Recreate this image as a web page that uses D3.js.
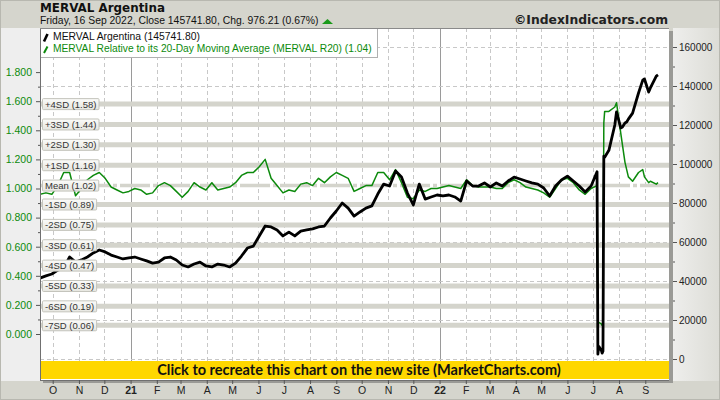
<!DOCTYPE html>
<html><head><meta charset="utf-8">
<script src="https://cdn.jsdelivr.net/npm/d3@7"></script>
<style>html,body{margin:0;padding:0;background:#fff}svg{display:block}</style>
</head><body><svg id="c" width="720" height="400"></svg>
<script>
// ---------- DATA ----------
const dates = [
"2020-09-16","2020-09-23","2020-09-30","2020-10-07","2020-10-14","2020-10-21","2020-10-28","2020-11-04","2020-11-11","2020-11-18",
"2020-11-25","2020-12-02","2020-12-09","2020-12-16","2020-12-23","2020-12-30","2021-01-06","2021-01-13","2021-01-20","2021-01-27",
"2021-02-03","2021-02-10","2021-02-17","2021-02-24","2021-03-03","2021-03-10","2021-03-17","2021-03-24","2021-03-31","2021-04-07",
"2021-04-14","2021-04-21","2021-04-28","2021-05-05","2021-05-12","2021-05-19","2021-05-26","2021-06-02","2021-06-09","2021-06-16",
"2021-06-23","2021-06-30","2021-07-07","2021-07-14","2021-07-21","2021-07-28","2021-08-04","2021-08-11","2021-08-18","2021-08-25",
"2021-09-01","2021-09-08","2021-09-15","2021-09-22","2021-09-29","2021-10-06","2021-10-13","2021-10-20","2021-10-27","2021-11-03",
"2021-11-10","2021-11-17","2021-11-24","2021-12-01","2021-12-08","2021-12-15","2021-12-22","2021-12-29","2022-01-05","2022-01-12",
"2022-01-19","2022-01-26","2022-02-02","2022-02-09","2022-02-16","2022-02-23","2022-03-02","2022-03-09","2022-03-16","2022-03-23",
"2022-03-30","2022-04-06","2022-04-13","2022-04-20","2022-04-27","2022-05-04","2022-05-11","2022-05-18","2022-05-25","2022-06-01",
"2022-06-08","2022-06-15","2022-06-22","2022-06-29","2022-07-06","2022-07-07","2022-07-08","2022-07-11","2022-07-12","2022-07-13",
"2022-07-14","2022-07-15","2022-07-20","2022-07-27","2022-07-29","2022-08-03","2022-08-05","2022-08-08","2022-08-10","2022-08-12",
"2022-08-17","2022-08-24","2022-08-29","2022-08-31","2022-09-05","2022-09-07","2022-09-14","2022-09-16"];

const merval = [
41500,42600,43600,45600,46700,52300,49700,50800,52300,54400,
55900,54900,53300,52300,51300,51800,52300,51300,50300,49200,
49700,51800,52300,50800,48200,47200,48700,49700,47700,47200,
48700,48200,47200,49200,52800,56900,57900,63100,68200,67700,
66200,63100,65100,63100,65600,66200,66700,67700,68200,72300,
75900,80000,77400,73300,75400,77400,78500,84600,89700,88700,
96400,93300,85100,79000,89700,82000,83100,84100,83600,84100,
83100,81000,91300,88700,88700,90300,88200,90300,88700,91300,
93300,92300,91300,90300,89700,87700,83600,88700,91800,93800,
91300,88700,85600,88700,96000,2500,6500,4500,3000,4000,
104000,103500,107000,120000,126700,118500,119000,121000,121500,123000,
126100,136400,143000,143600,136900,139000,145100,145741.80];

const r20 = [
0.96,0.97,0.96,1.02,1.11,1.11,0.95,1.00,1.06,1.09,
1.11,1.07,1.01,0.99,0.97,0.98,1.00,0.99,0.96,0.97,
1.02,1.04,1.02,0.98,0.94,0.98,1.04,1.01,0.99,1.04,
0.99,1.00,1.01,1.04,1.09,1.11,1.11,1.15,1.20,1.07,
1.02,0.97,0.99,0.98,1.03,1.04,1.02,1.07,1.04,1.08,
1.11,1.09,1.07,0.98,1.00,1.02,1.02,1.11,1.11,1.06,
1.13,1.04,0.94,0.93,0.99,0.98,1.00,1.00,1.01,1.02,
1.01,1.00,1.06,1.02,1.01,1.01,1.01,1.00,1.00,1.04,
1.06,1.04,1.01,1.00,0.99,0.97,0.94,1.00,1.06,1.07,
1.04,0.99,0.96,1.00,1.02,0.07,0.08,0.07,0.06,0.07,
1.45,1.53,1.53,1.56,1.59,1.38,1.30,1.18,1.13,1.08,
1.05,1.11,1.13,1.08,1.04,1.05,1.03,1.04];

const sdLabels = ["+4SD","+3SD","+2SD","+1SD","Mean","-1SD","-2SD","-3SD","-4SD","-5SD","-6SD","-7SD"];
const sdValues = [1.58,1.44,1.30,1.16,1.02,0.89,0.75,0.61,0.47,0.33,0.19,0.06];
const rightTicks = [0,20000,40000,60000,80000,100000,120000,140000,160000];
const rightMinor = [10000,30000,50000,70000,90000,110000,130000,150000];
const leftTicks = [0,0.2,0.4,0.6,0.8,1.0,1.2,1.4,1.6,1.8];
const leftMinor = [0.1,0.3,0.5,0.7,0.9,1.1,1.3,1.5,1.7];
const monthStarts = ["2020-10-01","2020-11-01","2020-12-01","2021-01-01","2021-02-01","2021-03-01","2021-04-01","2021-05-01",
"2021-06-01","2021-07-01","2021-08-01","2021-09-01","2021-10-01","2021-11-01","2021-12-01","2022-01-01","2022-02-01","2022-03-01",
"2022-04-01","2022-05-01","2022-06-01","2022-07-01","2022-08-01","2022-09-01"];
const monthLabels = ["O","N","D","21","F","M","A","M","J","J","A","S","O","N","D","22","F","M","A","M","J","J","A","S"];
const titleText = "MERVAL Argentina";
const subtitleText = "Friday, 16 Sep 2022, Close 145741.80, Chg. 976.21 (0.67%)";
const legendTexts = ["MERVAL Argentina (145741.80)","MERVAL Relative to its 20-Day Moving Average (MERVAL R20) (1.04)"];
const siteText = "\u00A9IndexIndicators.com";
const bannerText = "Click to recreate this chart on the new site (MarketCharts.com)";

// ---------- CHART ----------
const svg = d3.select("#c");
const parse = d3.utcParse("%Y-%m-%d");
const pts = dates.map((d,i)=>({d:parse(d), m:merval[i], r:r20[i]}));
const L=40, R=669, T=28, B=380, BAN=361;
const x = d3.scaleUtc().domain([parse("2020-09-16"), parse("2022-09-29")]).range([L,R]);
const yR = d3.scaleLinear().domain([0,160000]).range([359,47]);
const yL = d3.scaleLinear().domain([0,1.8]).range([334,72.1]);
const GREEN = "#0c8a0c";
const SANS = "'Liberation Sans', Arial, sans-serif";
const VERD = "'DejaVu Sans', Verdana, sans-serif";

function fit(sel, w){ const n=sel.node(); const fs=parseFloat(sel.attr("font-size")); const len=n.getComputedTextLength(); if(len>0) sel.attr("font-size", fs*w/len); return sel; }

const defs = svg.append("defs");
const gR = defs.append("linearGradient").attr("id","gR").attr("x1",0).attr("x2",1).attr("y1",0).attr("y2",0);
gR.append("stop").attr("offset",0).attr("stop-color","#eeeeec");
gR.append("stop").attr("offset",1).attr("stop-color","#dcdcd6");
const gLab = defs.append("linearGradient").attr("id","gLab").attr("x1",0).attr("x2",0).attr("y1",0).attr("y2",1);
gLab.append("stop").attr("offset",0).attr("stop-color","#fbfbf9");
gLab.append("stop").attr("offset",1).attr("stop-color","#e6e6e0");
defs.append("clipPath").attr("id","clip").append("rect").attr("x",L).attr("y",T).attr("width",R-L).attr("height",BAN-T);

// background
svg.append("rect").attr("width",720).attr("height",400).attr("fill","#d5d5cd");
svg.append("rect").attr("x",0).attr("y",T).attr("width",L).attr("height",B-T+1).attr("fill","#eeeeee");
svg.append("rect").attr("x",673).attr("y",T).attr("width",47).attr("height",B-T+1).attr("fill","url(#gR)");
svg.append("rect").attr("width",719).attr("height",399).attr("x",0.5).attr("y",0.5).attr("fill","none").attr("stroke","#b8b8b0");

// plot shadow + area
svg.append("rect").attr("x",L+3).attr("y",T+3).attr("width",R-L+1).attr("height",B-T).attr("fill","#9a9a96");
svg.append("rect").attr("x",L).attr("y",T).attr("width",R-L).attr("height",B-T).attr("fill","#fff");

// grids
const mDates = monthStarts.map(parse);
const grid = svg.append("g");
grid.selectAll("line.v").data(mDates).join("line")
  .attr("x1",d=>Math.round(x(d))+0.5).attr("x2",d=>Math.round(x(d))+0.5).attr("y1",T).attr("y2",BAN)
  .attr("stroke",d=>d.getUTCMonth()===0?"#9a9a9a":"#c8c8c8")
  .attr("stroke-dasharray",d=>d.getUTCMonth()===0?null:"4,3");
grid.selectAll("line.h").data(rightTicks).join("line")
  .attr("x1",L).attr("x2",R).attr("y1",d=>Math.round(yR(d))+0.5).attr("y2",d=>Math.round(yR(d))+0.5)
  .attr("stroke","#c8c8c8").attr("stroke-dasharray","4,3");

// SD bands
const bands = svg.append("g");
bands.selectAll("line").data(sdValues).join("line")
  .attr("x1",L).attr("x2",R).attr("y1",d=>yL(d)).attr("y2",d=>yL(d))
  .attr("stroke","#d4d4cc")
  .attr("stroke-width",(d,i)=>sdLabels[i]==="Mean"?3.5:5)
  .attr("stroke-dasharray",(d,i)=>sdLabels[i]==="Mean"?"30,3,4,3":null);

// lines
const plot = svg.append("g").attr("clip-path","url(#clip)");
plot.append("path").datum(pts)
  .attr("d",d3.line().x(d=>x(d.d)).y(d=>yL(d.r)))
  .attr("fill","none").attr("stroke",GREEN).attr("stroke-width",1.5).attr("stroke-linejoin","round");
plot.append("path").datum(pts)
  .attr("d",d3.line().x(d=>x(d.d)).y(d=>yR(d.m)))
  .attr("fill","none").attr("stroke","#000").attr("stroke-width",2.8).attr("stroke-linejoin","round");

// SD labels
const lab = svg.append("g").selectAll("g").data(sdValues).join("g")
  .attr("transform",d=>`translate(42,${yL(d)})`);
lab.each(function(d,i){
  const g=d3.select(this);
  const r=g.append("rect").attr("x",0.5).attr("y",-5.5).attr("height",11).attr("rx",1)
    .attr("fill","url(#gLab)").attr("stroke","#c4c4bc");
  const t=g.append("text").attr("x",3).attr("y",3.5).attr("font-family",SANS).attr("font-size",9.5)
    .attr("fill","#333").text(`${sdLabels[i]} (${d.toFixed(2)})`);
  r.attr("width",t.node().getComputedTextLength()+5);
});

// legend
svg.append("rect").attr("x",L+0.5).attr("y",T+0.5).attr("width",337).attr("height",29).attr("fill","#fff").attr("stroke","#b0b0b0");
svg.append("line").attr("x1",44).attr("y1",41.5).attr("x2",47.5).attr("y2",34).attr("stroke","#000").attr("stroke-width",2.6);
svg.append("line").attr("x1",44).attr("y1",53).attr("x2",47.5).attr("y2",46.5).attr("stroke",GREEN).attr("stroke-width",2);
fit(svg.append("text").attr("x",53).attr("y",39.5).attr("font-family",SANS).attr("font-size",11).attr("fill","#111").text(legendTexts[0]),147);
fit(svg.append("text").attr("x",53).attr("y",52).attr("font-family",SANS).attr("font-size",11).attr("fill",GREEN).text(legendTexts[1]),319);

// banner
svg.append("rect").attr("x",L).attr("y",BAN).attr("width",R-L).attr("height",B-BAN-1).attr("fill","#ffd700");
fit(svg.append("text").attr("x",359).attr("y",374.5).attr("text-anchor","middle").attr("font-family","Lato, sans-serif")
  .attr("font-weight","bold").attr("font-size",14).attr("fill","#111").text(bannerText),404);

// frame
svg.append("line").attr("x1",L+0.5).attr("x2",L+0.5).attr("y1",T).attr("y2",B+1).attr("stroke","#707070");
svg.append("line").attr("x1",L).attr("x2",R).attr("y1",T+0.5).attr("y2",T+0.5).attr("stroke","#8a8a8a");
svg.append("line").attr("x1",L).attr("x2",R).attr("y1",B+0.5).attr("y2",B+0.5).attr("stroke","#707070");

// titles
fit(svg.append("text").attr("x",40).attr("y",11.5).attr("font-family",VERD).attr("font-weight","bold").attr("font-size",13).attr("fill","#111").text(titleText),125);
fit(svg.append("text").attr("x",40).attr("y",23.5).attr("font-family",SANS).attr("font-size",11).attr("fill","#111").text(subtitleText),279);
svg.append("path").attr("d","M322,24L333,24L327.5,19Z").attr("fill","#1a9a1a");
fit(svg.append("text").attr("x",668).attr("y",23.5).attr("text-anchor","end").attr("font-family",VERD).attr("font-weight","bold").attr("font-size",13).attr("fill","#222").text(siteText),154);

// axes
function styleAxis(g, color){ g.select(".domain").remove(); g.selectAll(".tick line").attr("stroke","#555"); g.selectAll("text").attr("fill",color).attr("font-family",SANS); }
const ar = svg.append("g").attr("transform","translate(673,0)")
  .call(d3.axisRight(yR).tickValues(rightTicks).tickSize(4).tickPadding(2).tickFormat(d3.format("d")));
styleAxis(ar,"#222"); ar.selectAll("text").attr("font-size",10);
const arm = svg.append("g").attr("transform","translate(673,0)").call(d3.axisRight(yR).tickValues(rightMinor).tickSize(2).tickFormat(""));
styleAxis(arm,"#222");
const al = svg.append("g").attr("transform",`translate(${L},0)`)
  .call(d3.axisLeft(yL).tickValues(leftTicks).tickSize(4).tickPadding(4).tickFormat(d3.format(".3f")));
styleAxis(al,GREEN); al.selectAll("text").attr("font-size",10.5);
const alm = svg.append("g").attr("transform",`translate(${L},0)`).call(d3.axisLeft(yL).tickValues(leftMinor).tickSize(2).tickFormat(""));
styleAxis(alm,GREEN);
const ab = svg.append("g").attr("transform",`translate(0,${B})`)
  .call(d3.axisBottom(x).tickValues(mDates).tickSize(4).tickPadding(3).tickFormat((d,i)=>monthLabels[i]));
styleAxis(ab,"#222");
ab.selectAll("text").attr("font-size",10.5).attr("font-weight",(d,i)=>/\d/.test(monthLabels[i])?"bold":null);
</script></body></html>
